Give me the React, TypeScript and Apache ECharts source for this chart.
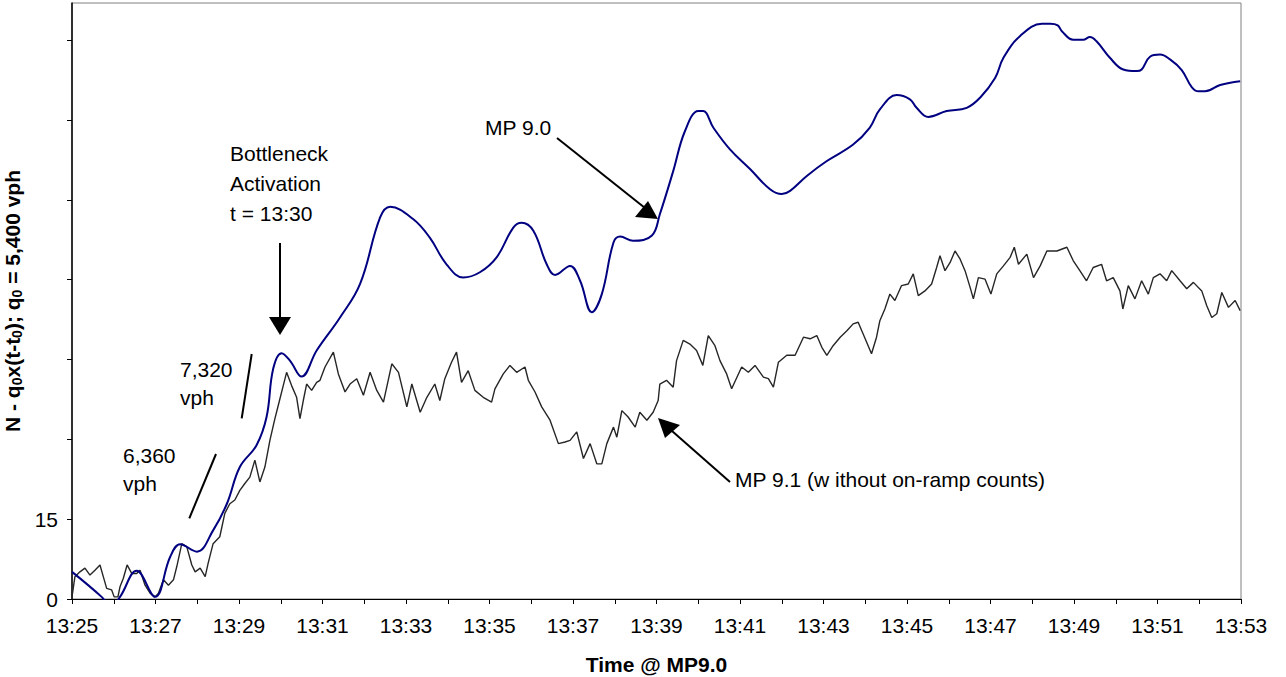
import { useEffect, useRef } from 'react';
import * as echarts from 'echarts';

// x: minutes after 13:25, y: N - q0x(t-t0)
const TIME_LABELS = ['13:25', '13:27', '13:29', '13:31', '13:33', '13:35', '13:37', '13:39', '13:41', '13:43', '13:45', '13:47', '13:49', '13:51', '13:53'];
const Y_LABELED = [0, 15];

const mp90: [number, number][] = [
  [0, 5.1], [0.71, 0.4], [0.93, -1.5], [1.15, 0.4], [1.55, 5.3], [1.99, 0.4], [2.35, 7.9], [2.59, 10.3],
  [2.99, 8.9], [3.38, 12.9], [3.71, 17.9], [4.02, 24.8], [4.42, 28.9], [4.66, 34.2], [4.82, 43.3], [5.02, 46.2],
  [5.22, 44.8], [5.5, 41.8], [5.86, 46.7], [6.42, 52.9], [6.9, 59.2], [7.38, 71.7], [7.62, 73.7], [8.17, 71.4],
  [8.57, 67.9], [8.97, 62.9], [9.37, 60.4], [9.77, 61.4], [10.17, 64.2], [10.57, 69.8], [10.77, 70.7], [11.05, 69.2],
  [11.37, 62.9], [11.57, 60.9], [11.93, 62.6], [12.17, 59.8], [12.45, 53.9], [12.69, 57.3], [12.97, 67.0], [13.13, 68.1],
  [13.44, 67.3], [13.89, 68.3], [14.08, 72.3], [14.4, 80.4], [14.68, 87.9], [15.0, 91.7], [15.12, 91.7], [15.36, 88.6],
  [15.76, 84.5], [16.24, 80.8], [16.72, 77.0], [17.0, 76.1], [17.2, 76.7], [17.6, 79.5], [18.08, 82.3], [18.71, 85.4],
  [19.11, 88.6], [19.35, 92.0], [19.75, 94.7], [20.07, 93.9], [20.23, 92.3], [20.51, 90.6], [20.95, 91.7], [21.43, 92.3],
  [21.75, 94.2], [22.11, 97.9], [22.31, 101.7], [22.71, 105.8], [23.23, 108.1], [23.43, 108.1], [23.61, 107.8], [23.71, 106.7],
  [23.98, 105.1], [24.22, 105.1], [24.38, 105.6], [24.54, 104.8], [24.86, 101.7], [25.18, 99.5], [25.5, 99.2], [25.62, 99.5],
  [25.82, 101.9], [26.06, 102.3], [26.3, 101.4], [26.58, 99.4], [26.82, 96.2], [26.98, 95.4], [27.14, 95.4], [27.5, 96.6],
  [27.98, 97.3],
];

const mp91: [number, number][] = [
  [0, 0.4], [0.07, 4.2], [0.19, 5.1], [0.31, 5.8], [0.43, 4.5], [0.55, 5.4], [0.67, 6.4], [0.75, 4.2],
  [0.83, 2.0], [0.95, 1.7], [1.01, 0.4], [1.1, 0.4], [1.15, 2.3], [1.23, 3.9], [1.32, 6.4], [1.43, 4.8],
  [1.55, 4.8], [1.63, 5.4], [1.75, 2.6], [1.87, 1.1], [1.99, 0.4], [2.07, 1.1], [2.19, 3.6], [2.31, 2.6],
  [2.43, 3.6], [2.51, 6.1], [2.63, 10.4], [2.75, 9.8], [2.87, 6.4], [2.95, 5.1], [3.07, 5.8], [3.19, 4.2],
  [3.26, 6.7], [3.38, 10.4], [3.54, 11.7], [3.66, 16.1], [3.78, 17.9], [3.9, 18.6], [4.02, 20.4], [4.14, 21.7],
  [4.26, 22.9], [4.38, 26.1], [4.5, 22.0], [4.62, 24.8], [4.74, 29.8], [4.86, 33.9], [4.97, 37.3], [5.06, 40.1],
  [5.14, 42.6], [5.26, 40.1], [5.38, 37.9], [5.46, 33.9], [5.54, 37.3], [5.62, 40.4], [5.74, 39.2], [5.86, 40.7],
  [5.94, 41.1], [6.06, 43.6], [6.26, 46.4], [6.38, 42.3], [6.54, 38.9], [6.66, 40.4], [6.82, 41.4], [6.98, 38.3],
  [7.14, 42.6], [7.3, 39.2], [7.46, 37.0], [7.66, 44.2], [7.82, 42.6], [8.02, 36.1], [8.14, 40.4], [8.34, 35.1],
  [8.5, 37.9], [8.69, 40.4], [8.81, 37.3], [8.93, 41.4], [9.09, 44.5], [9.21, 46.4], [9.33, 40.7], [9.49, 42.9],
  [9.65, 39.2], [9.85, 37.9], [10.05, 37.0], [10.13, 39.5], [10.33, 42.3], [10.49, 43.9], [10.65, 42.6], [10.85, 43.6],
  [10.93, 41.1], [11.09, 38.9], [11.25, 36.1], [11.45, 33.6], [11.65, 29.2], [11.81, 29.5], [11.93, 29.8], [12.09, 31.4],
  [12.25, 26.4], [12.41, 29.2], [12.57, 25.4], [12.69, 25.4], [12.81, 29.2], [12.97, 32.3], [13.05, 30.4], [13.17, 35.4],
  [13.32, 34.2], [13.49, 32.3], [13.6, 35.1], [13.77, 33.6], [13.92, 35.1], [14.04, 37.3], [14.08, 40.4], [14.24, 41.1],
  [14.4, 39.8], [14.48, 44.8], [14.64, 48.6], [14.8, 47.9], [14.96, 46.7], [15.11, 43.9], [15.24, 49.5], [15.4, 47.6],
  [15.52, 44.8], [15.68, 42.3], [15.8, 39.5], [16.04, 43.6], [16.2, 42.6], [16.36, 43.9], [16.56, 41.7], [16.68, 41.4],
  [16.8, 39.8], [16.92, 44.5], [17.12, 45.8], [17.32, 45.8], [17.52, 49.2], [17.68, 48.9], [17.84, 49.5], [17.96, 47.3],
  [18.08, 45.8], [18.23, 47.6], [18.4, 49.2], [18.56, 50.4], [18.71, 51.7], [18.83, 52.0], [18.95, 49.8], [19.15, 46.1],
  [19.27, 49.2], [19.35, 52.3], [19.47, 54.5], [19.59, 57.3], [19.71, 56.1], [19.87, 58.9], [20.03, 59.2], [20.15, 61.1],
  [20.27, 57.0], [20.43, 57.9], [20.59, 59.2], [20.71, 62.3], [20.79, 64.5], [20.91, 61.7], [21.03, 63.2], [21.15, 65.4],
  [21.27, 63.9], [21.39, 61.7], [21.51, 58.6], [21.59, 56.4], [21.71, 60.4], [21.87, 60.1], [22.01, 57.3], [22.15, 61.1],
  [22.31, 62.6], [22.47, 64.2], [22.57, 66.1], [22.67, 62.9], [22.87, 64.8], [23.03, 60.4], [23.19, 62.6], [23.35, 65.4],
  [23.59, 65.4], [23.83, 66.1], [23.98, 63.6], [24.14, 61.7], [24.3, 59.8], [24.46, 62.3], [24.66, 62.9], [24.78, 59.8],
  [24.94, 60.4], [25.1, 57.9], [25.17, 54.5], [25.3, 58.9], [25.46, 56.4], [25.62, 59.8], [25.78, 57.3], [25.9, 60.4],
  [26.06, 61.1], [26.22, 59.8], [26.34, 61.7], [26.54, 59.8], [26.7, 58.3], [26.86, 59.5], [27.06, 57.9], [27.18, 55.1],
  [27.3, 52.9], [27.42, 53.6], [27.54, 57.6], [27.7, 54.8], [27.86, 56.1], [27.98, 54.2],
];

const FONT = 'Arial, "Liberation Sans", sans-serif';

export default function App() {
  const chartRef = useRef<HTMLDivElement>(null);

  useEffect(() => {
    if (!chartRef.current) return;
    const chart = echarts.init(chartRef.current, null, { renderer: 'svg' });

    const label = (text: string, x: number, y: number, lineHeight = 30) => ({
      type: 'text',
      x,
      y,
      style: { text, fill: '#000', fontSize: 21, fontFamily: FONT, lineHeight, align: 'left', verticalAlign: 'top' },
    });
    const seg = (x1: number, y1: number, x2: number, y2: number, w = 2) => ({
      type: 'line',
      shape: { x1, y1, x2, y2 },
      style: { stroke: '#000', lineWidth: w },
    });
    const head = (points: number[][]) => ({
      type: 'polygon',
      shape: { points },
      style: { fill: '#000' },
    });

    const option = {
      animation: false,
      backgroundColor: '#fff',
      grid: {
        left: 72,
        right: 45,
        top: 3,
        bottom: 78,
        outerBoundsMode: 'none',
        containLabel: false,
        show: true,
        borderColor: '#808080',
        borderWidth: 1,
      },
      xAxis: {
        type: 'value',
        min: 0,
        max: 28,
        interval: 1,
        name: 'Time @ MP9.0',
        nameLocation: 'middle',
        nameGap: 55,
        nameTextStyle: { fontSize: 21, fontWeight: 'bold', fontFamily: FONT, color: '#000' },
        axisLine: { lineStyle: { color: '#000', width: 1 } },
        axisTick: { length: 5, lineStyle: { color: '#000' } },
        axisLabel: {
          margin: 16,
          fontSize: 21,
          fontFamily: FONT,
          color: '#000',
          formatter: (v: number) => (v % 2 === 0 ? TIME_LABELS[v / 2] : ''),
        },
        splitLine: { show: false },
      },
      yAxis: {
        type: 'value',
        min: 0,
        max: 112,
        interval: 15,
        name: '{m|N - q}{s|0}{m|x(t-t}{s|0}{m|); q}{s|0}{m| = 5,400 vph}',
        nameLocation: 'middle',
        nameGap: 37,
        nameTextStyle: {
          color: '#000',
          rich: {
            m: { fontSize: 21, fontWeight: 'bold', fontFamily: FONT, color: '#000', lineHeight: 22, verticalAlign: 'middle' },
            s: { fontSize: 14, fontWeight: 'bold', fontFamily: FONT, color: '#000', lineHeight: 14, padding: [12, 0, 0, 0], verticalAlign: 'bottom' },
          },
        },
        axisLine: { show: true, lineStyle: { color: '#000', width: 1.5 } },
        axisTick: { show: true, length: 5, lineStyle: { color: '#000' } },
        axisLabel: {
          margin: 14,
          fontSize: 21,
          fontFamily: FONT,
          color: '#000',
          showMaxLabel: false,
          formatter: (v: number) => (Y_LABELED.includes(v) ? String(v) : ''),
        },
        splitLine: { show: false },
      },
      series: [
        {
          name: 'MP 9.1',
          type: 'line',
          data: mp91,
          showSymbol: false,
          lineStyle: { color: '#262626', width: 1.4 },
          clip: true,
        },
        {
          name: 'MP 9.0',
          type: 'line',
          smooth: 0.4,
          data: mp90,
          showSymbol: false,
          lineStyle: { color: '#000080', width: 2 },
          clip: true,
        },
      ],
      graphic: [
        label('Bottleneck\nActivation\nt = 13:30', 230, 138),
        seg(280, 243, 280, 318),
        head([[269, 317], [291, 317], [280, 335]]),
        label('7,320\nvph', 180, 355, 28),
        seg(251.7, 354, 241.7, 418.3),
        label('6,360\nvph', 123, 441, 28),
        seg(216, 454, 189.3, 518.3),
        label('MP 9.0', 485, 112),
        seg(557, 138, 645, 208),
        head([[658, 219], [635, 217], [648, 201]]),
        label('MP 9.1 (w ithout on-ramp counts)', 735, 464),
        seg(730, 482, 672, 431),
        head([[658, 418], [665, 438], [680, 425]]),
      ],
    };

    chart.setOption(option);

    const handleResize = () => chart.resize();
    window.addEventListener('resize', handleResize);
    return () => {
      window.removeEventListener('resize', handleResize);
      chart.dispose();
    };
  }, []);

  return (
    <div
      ref={chartRef}
      style={{ position: 'fixed', left: 0, top: 0, width: 1286, height: 677, background: '#fff' }}
    />
  );
}
